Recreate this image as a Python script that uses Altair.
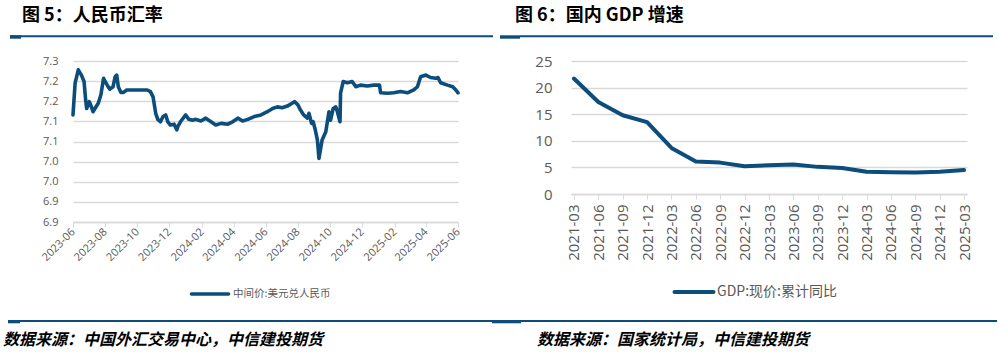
import altair as alt
import pandas as pd

# ---------------- data ----------------
fx_dates = [
    "2023-06-01", "2023-06-05", "2023-06-11", "2023-06-17", "2023-06-22", "2023-06-25", "2023-06-27",
    "2023-07-02", "2023-07-06", "2023-07-09", "2023-07-15", "2023-07-19", "2023-07-24", "2023-07-29",
    "2023-08-01", "2023-08-05", "2023-08-10", "2023-08-16", "2023-08-20", "2023-08-23", "2023-08-26", "2023-08-31",
    "2023-09-05", "2023-09-11", "2023-09-25", "2023-10-10", "2023-10-20", "2023-10-26", "2023-10-31",
    "2023-11-05", "2023-11-09", "2023-11-14", "2023-11-19", "2023-11-24", "2023-11-28",
    "2023-12-03", "2023-12-10", "2023-12-15", "2023-12-17", "2023-12-22",
    "2024-01-01", "2024-01-07", "2024-01-14", "2024-01-20", "2024-01-30",
    "2024-02-08", "2024-02-18", "2024-02-27", "2024-03-08", "2024-03-21", "2024-03-30",
    "2024-04-09", "2024-04-18", "2024-04-28", "2024-05-10", "2024-05-23", "2024-06-04", "2024-06-14", "2024-06-23",
    "2024-07-02", "2024-07-12", "2024-07-21", "2024-07-26", "2024-08-01", "2024-08-06", "2024-08-12", "2024-08-19",
    "2024-08-22", "2024-08-27", "2024-08-30",
    "2024-09-03", "2024-09-07", "2024-09-10", "2024-09-16", "2024-09-23", "2024-09-29",
    "2024-10-02", "2024-10-07", "2024-10-12", "2024-10-15", "2024-10-20", "2024-10-21", "2024-10-26",
    "2024-11-03", "2024-11-12", "2024-11-19", "2024-11-28", "2024-12-11", "2024-12-23",
    "2025-01-03", "2025-01-05", "2025-01-18", "2025-01-30", "2025-02-12", "2025-02-25",
    "2025-03-09", "2025-03-16", "2025-03-22", "2025-04-01", "2025-04-10", "2025-04-20", "2025-04-24", "2025-04-29",
    "2025-05-12", "2025-05-22", "2025-05-28", "2025-06-01",
]
fx_values = [
    7.116, 7.195, 7.228, 7.215, 7.199, 7.153, 7.132,
    7.149, 7.136, 7.124, 7.137, 7.145, 7.166, 7.207,
    7.199, 7.190, 7.180, 7.186, 7.211, 7.215, 7.186, 7.172,
    7.172, 7.178, 7.178, 7.178, 7.178, 7.174, 7.161,
    7.120, 7.105, 7.099, 7.112, 7.116, 7.099,
    7.091, 7.093, 7.079, 7.087, 7.099,
    7.116, 7.105, 7.103, 7.105, 7.101,
    7.108, 7.099, 7.091, 7.095, 7.093, 7.099,
    7.108, 7.101, 7.105, 7.112, 7.116, 7.124, 7.132, 7.136,
    7.134, 7.138, 7.145, 7.149, 7.141, 7.128, 7.116, 7.108,
    7.120, 7.095, 7.099,
    7.079, 7.054, 7.008, 7.054, 7.074, 7.124,
    7.103, 7.132, 7.136, 7.124, 7.099, 7.170, 7.199,
    7.196, 7.199, 7.186, 7.190, 7.188, 7.190,
    7.190, 7.171, 7.170, 7.171, 7.174, 7.171,
    7.178, 7.186, 7.211, 7.215, 7.209, 7.207, 7.209, 7.196,
    7.190, 7.186, 7.178, 7.171,
]
fx_series = "中间价:美元兑人民币"
fx_ticks = ["2023-06-01", "2023-08-01", "2023-10-01", "2023-12-01", "2024-02-01", "2024-04-01",
            "2024-06-01", "2024-08-01", "2024-10-01", "2024-12-01", "2025-02-01", "2025-04-01", "2025-06-01"]
fx_y_ticks = [6.85, 6.90, 6.95, 7.00, 7.05, 7.10, 7.15, 7.20, 7.25]

gdp_quarters = ["2021-03", "2021-06", "2021-09", "2021-12", "2022-03", "2022-06", "2022-09", "2022-12",
                "2023-03", "2023-06", "2023-09", "2023-12", "2024-03", "2024-06", "2024-09", "2024-12", "2025-03"]
gdp_values = [21.7, 17.3, 14.8, 13.5, 8.65, 6.1, 5.9, 5.2, 5.4, 5.55, 5.1, 4.9, 4.2, 4.1, 4.05, 4.2, 4.5]
gdp_series = "GDP:现价:累计同比"

title_left = "图 5：人民币汇率"
title_right = "图 6：国内 GDP 增速"
source_left = "数据来源：中国外汇交易中心，中信建投期货"
source_right = "数据来源：国家统计局，中信建投期货"

# ---------------- style ----------------
BLUE = "#0c4d7c"
GRID = "#d9d9d9"
LABEL = "#595959"
CJK = "Noto Sans CJK SC"
NUM = "Open Sans"

L_OX, L_OY, L_W, L_H = 73, 61, 385, 161
R_OX, R_OY, R_W, R_H = 571, 61, 396, 133


def one():
    return pd.DataFrame({"k": [0]})


def band(x1, x2, y1, y2, ox, oy, color=BLUE, opacity=1.0):
    return alt.Chart(one()).mark_rect(color=color, opacity=opacity).encode(
        x=alt.value(x1 - ox), x2=alt.value(x2 - ox),
        y=alt.value(y1 - oy), y2=alt.value(y2 - oy))


def swatch(x1, x2, y, w, ox, oy):
    return alt.Chart(one()).mark_rule(color=BLUE, strokeWidth=w, strokeCap="round").encode(
        x=alt.value(x1 - ox), x2=alt.value(x2 - ox), y=alt.value(y - oy))


def label(txt, x, y, ox, oy, size, color="#000000", **kw):
    return alt.Chart(pd.DataFrame({"t": [txt]})).mark_text(
        align="left", baseline="middle", fontSize=size, font=CJK, color=color, **kw
    ).encode(x=alt.value(x - ox), y=alt.value(y - oy), text="t:N")


# ---------------- left panel ----------------
fx_df = pd.DataFrame({"date": fx_dates, "value": fx_values, "series": fx_series})

fx_line = alt.Chart(fx_df).mark_line(
    color=BLUE, strokeWidth=3.6, strokeCap="round", strokeJoin="round"
).encode(
    x=alt.X("date:T", title=None,
            scale=alt.Scale(type="utc",
                            domain=[alt.DateTime(year=2023, month=6, date=1, utc=True),
                                    alt.DateTime(year=2025, month=6, date=1, utc=True)]),
            axis=alt.Axis(values=[alt.DateTime(year=int(d[:4]), month=int(d[5:7]), date=1, utc=True)
                                  for d in fx_ticks],
                          format="%Y-%m", labelAngle=-45, labelAlign="right", labelBaseline="middle",
                          labelPadding=3, labelFontSize=11, labelFont=NUM, labelColor=LABEL,
                          grid=False, domainColor=GRID, domainWidth=1.3, tickColor=GRID, tickSize=5,
                          labelOverlap=False, labelFlush=False)),
    y=alt.Y("value:Q", title=None,
            scale=alt.Scale(domain=[6.85, 7.25], nice=False, zero=False),
            axis=alt.Axis(values=fx_y_ticks,
                          labelExpr="format(round(datum.value*10 + 0.0001)/10, '.1f')",
                          labelFontSize=11, labelFont=NUM, labelColor=LABEL, labelPadding=15,
                          domain=False, ticks=False, gridColor=GRID, gridWidth=1.3)),
)

left = alt.layer(
    band(0, 496, 0, 354, L_OX, L_OY, opacity=0),          # layout anchor
    fx_line,
    label(title_left, 22, 16, L_OX, L_OY, 18, fontWeight="bold"),
    band(10, 493, 35.3, 37.3, L_OX, L_OY),
    band(10, 21, 35.3, 38.7, L_OX, L_OY),
    swatch(191.5, 228.5, 294, 3.6, L_OX, L_OY),
    label(fx_series, 233, 294, L_OX, L_OY, 10.5, color=LABEL),
    band(8, 496, 320, 322, L_OX, L_OY),
    band(8, 20, 320, 323.3, L_OX, L_OY),
    band(492, 496, 320, 323.3, L_OX, L_OY),
    label(source_left, 3, 340, L_OX, L_OY, 16, fontWeight="bold", fontStyle="italic"),
).properties(width=L_W, height=L_H)

# ---------------- right panel ----------------
gdp_df = pd.DataFrame({"q": gdp_quarters, "v": gdp_values, "series": gdp_series})

gdp_line = alt.Chart(gdp_df).mark_line(
    color=BLUE, strokeWidth=4, strokeCap="round", strokeJoin="round"
).encode(
    x=alt.X("q:O", title=None, sort=gdp_quarters,
            scale=alt.Scale(type="point", padding=0.12),
            axis=alt.Axis(labelAngle=-90, labelAlign="right", labelBaseline="middle",
                          labelPadding=5, labelFontSize=15, labelFont=NUM, labelColor=LABEL,
                          grid=False, domainColor=GRID, domainWidth=1.3, tickColor=GRID, tickSize=5)),
    y=alt.Y("v:Q", title=None,
            scale=alt.Scale(domain=[0, 25], nice=False),
            axis=alt.Axis(values=[0, 5, 10, 15, 20, 25], labelFontSize=15, labelFont=NUM,
                          labelColor=LABEL, labelPadding=19, domain=False, ticks=False,
                          gridColor=GRID, gridWidth=1.3)),
)

right = alt.layer(
    band(496, 999, 0, 354, R_OX, R_OY, opacity=0),         # layout anchor
    gdp_line,
    label(title_right, 515, 16, R_OX, R_OY, 18, fontWeight="bold"),
    band(520, 993, 35.3, 37.3, R_OX, R_OY),
    band(500, 520, 35.3, 38.7, R_OX, R_OY),
    swatch(674.5, 713.5, 292, 4, R_OX, R_OY),
    label(gdp_series, 717, 292, R_OX, R_OY, 14, color=LABEL),
    band(496, 521, 320, 323.3, R_OX, R_OY),
    band(521, 997, 320, 322, R_OX, R_OY),
    label(source_right, 537, 340, R_OX, R_OY, 16, fontWeight="bold", fontStyle="italic"),
).properties(width=R_W, height=R_H)

chart = alt.hconcat(left, right, spacing=0).properties(
    padding=0, background="white"
).configure_view(stroke=None)

chart.save("out.html", embed_options={"renderer": "svg", "actions": False})
